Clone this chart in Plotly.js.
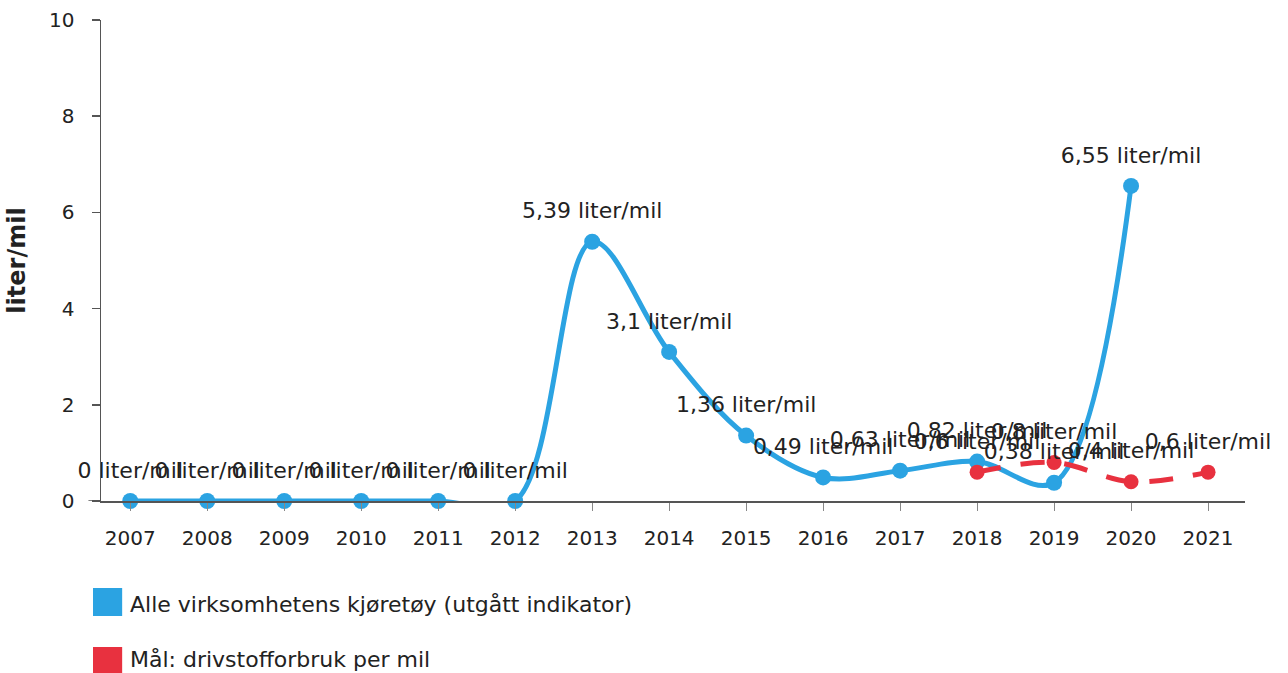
<!DOCTYPE html>
<html>
<head>
<meta charset="utf-8">
<script src="https://cdn.plot.ly/plotly-3.0.1.min.js"></script>
<style>html,body{margin:0;padding:0;background:#fff;}#chart{width:1288px;height:673px;}</style>
</head>
<body>
<div id="chart"></div>
<script>
const years = ['2007','2008','2009','2010','2011','2012','2013','2014','2015','2016','2017','2018','2019','2020','2021'];
const blueYears = ['2007','2008','2009','2010','2011','2012','2013','2014','2015','2016','2017','2018','2019','2020'];
const blueValues = [0, 0, 0, 0, 0, 0, 5.39, 3.1, 1.36, 0.49, 0.63, 0.82, 0.38, 6.55];
const redYears = ['2018','2019','2020','2021'];
const redValues = [0.6, 0.8, 0.4, 0.6];
const blueName = 'Alle virksomhetens kjøretøy (utgått indikator)';
const redName = 'Mål: drivstofforbruk per mil';
const yTicks = [0, 2, 4, 6, 8, 10];

const BLUE = '#2ba3e2';
const RED = '#e8313f';
const FONT = 'DejaVu Sans, Verdana, sans-serif';
const lab = v => String(v).replace('.', ',') + ' liter/mil';
const labelFont = {family: FONT, size: 22, color: '#222'};

const traces = [
  {
    x: blueYears, y: blueValues, type: 'scatter', mode: 'lines+markers',
    line: {color: BLUE, width: 5, shape: 'spline', smoothing: 1},
    marker: {color: BLUE, size: 16},
    cliponaxis: false, showlegend: false, name: blueName
  },
  {
    x: redYears, y: redValues, type: 'scatter', mode: 'lines+markers',
    line: {color: RED, width: 5, shape: 'spline', smoothing: 1, dash: '24px,20px'},
    marker: {color: RED, size: 15},
    cliponaxis: false, showlegend: false, name: redName
  },
  {
    x: blueYears, y: blueValues, type: 'scatter', mode: 'markers+text',
    marker: {size: 27, opacity: 0},
    text: blueValues.map(lab), textposition: 'top center', textfont: labelFont,
    cliponaxis: false, showlegend: false, hoverinfo: 'skip'
  },
  {
    x: redYears, y: redValues, type: 'scatter', mode: 'markers+text',
    marker: {size: 27, opacity: 0},
    text: redValues.map(lab), textposition: 'top center', textfont: labelFont,
    cliponaxis: false, showlegend: false, hoverinfo: 'skip'
  }
];

const layout = {
  width: 1288, height: 673,
  margin: {l: 101, r: 43, t: 20, b: 172},
  paper_bgcolor: '#fff', plot_bgcolor: '#fff',
  font: {family: FONT, size: 20, color: '#222'},
  showlegend: false,
  xaxis: {
    type: 'category', categoryorder: 'array', categoryarray: years,
    range: [-0.38, 14.48],
    showgrid: false, zeroline: false,
    showline: true, linecolor: '#555', linewidth: 1.5,
    ticks: 'outside', ticklen: 8, tickcolor: '#888', tickwidth: 1,
    ticklabelstandoff: 10,
    tickfont: {family: FONT, size: 20, color: '#222'}
  },
  yaxis: {
    range: [0, 10], tickvals: yTicks,
    showgrid: false, zeroline: false,
    showline: true, linecolor: '#555', linewidth: 1.5,
    ticks: 'outside', ticklen: 8, tickcolor: '#555', tickwidth: 1.5,
    ticklabelstandoff: 13,
    tickfont: {family: FONT, size: 20, color: '#222'},
    title: {text: 'liter/mil', font: {family: FONT, size: 24, color: '#222', weight: 'bold'}, standoff: 16}
  },
  shapes: [
    {type: 'rect', xref: 'paper', yref: 'paper', x0: -0.007, x1: 0.0185, y0: 1 - (616 - 20) / 481, y1: 1 - (588 - 20) / 481, fillcolor: BLUE, line: {width: 0}},
    {type: 'rect', xref: 'paper', yref: 'paper', x0: -0.007, x1: 0.0185, y0: 1 - (675 - 20) / 481, y1: 1 - (647 - 20) / 481, fillcolor: RED, line: {width: 0}},
    {type: 'line', xref: 'paper', yref: 'y', x0: -0.011, x1: 0, y0: 0, y1: 0, line: {color: '#555', width: 1.5}}
  ],
  annotations: [
    {xref: 'paper', yref: 'paper', x: 0.024, y: 1 - (604 - 20) / 481, xanchor: 'left', yanchor: 'middle', showarrow: false, text: blueName, font: {family: FONT, size: 22, color: '#222'}},
    {xref: 'paper', yref: 'paper', x: 0.024, y: 1 - (659 - 20) / 481, xanchor: 'left', yanchor: 'middle', showarrow: false, text: redName, font: {family: FONT, size: 22, color: '#222'}}
  ]
};

Plotly.newPlot('chart', traces, layout, {displayModeBar: false, staticPlot: true});
</script>
</body>
</html>
